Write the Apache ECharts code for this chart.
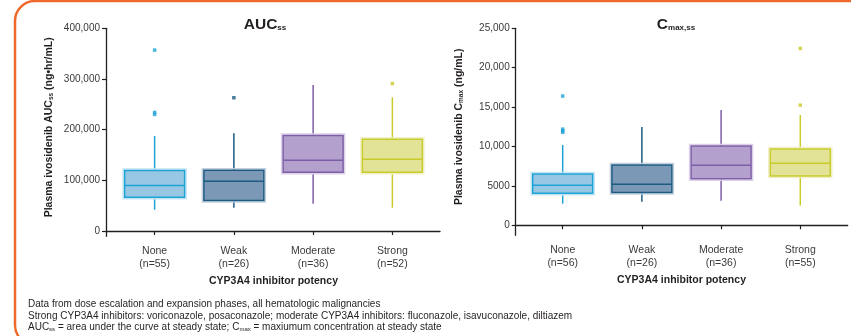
<!DOCTYPE html>
<html>
<head>
<meta charset="utf-8">
<script src="https://cdn.jsdelivr.net/npm/echarts@6/dist/echarts.min.js"></script>
<style>
  html, body { margin: 0; padding: 0; background: #ffffff; }
  #chart { width: 851px; height: 336px; }
</style>
</head>
<body>
<div id="chart"></div>
<script>
// Inhibitor potency groups and group sizes per panel
const categories = ['None', 'Weak', 'Moderate', 'Strong'];
const aucN = [55, 26, 36, 52];
const cmaxN = [56, 26, 36, 55];

// Box summaries: [lower whisker, Q1, median, Q3, upper whisker]
const aucBoxes = [
  [42000, 66500, 90000, 119500, 187500],
  [46000, 60000, 98000, 120000, 193000],
  [54000, 116000, 139500, 188500, 288000],
  [46000, 116000, 141500, 181000, 264000]
];
const aucOutliers = [[357000, 234000, 230000], [263000], [], [291000]];

const cmaxBoxes = [
  [2750, 4060, 5080, 6500, 10200],
  [3000, 4150, 5200, 7650, 12480],
  [3120, 5920, 7620, 10060, 14630],
  [2500, 6260, 7870, 9680, 14000]
];
const cmaxOutliers = [[16400, 12200, 12000, 11800], [], [], [22450, 15250]];

// Y-axis tick values and their printed labels
const aucTicks = [0, 100000, 200000, 300000, 400000];
const aucTickLabels = ['0', '100,000', '200,000', '300,000', '400,000'];
const cmaxTicks = [0, 5000, 10000, 15000, 20000, 25000];
const cmaxTickLabels = ['0', '5000', '10,000', '15,000', '20,000', '25,000'];

// Group styling
const fills = ['#98c7e4', '#7b98b6', '#b4a0cc', '#e2e397'];
const halos = ['#c4e4f4', '#c3d0dd', '#dcd1e8', '#eff0c8'];
const strokes = ['#1ea3d6', '#1d5b82', '#7e5ea8', '#c9cb2a'];

const FONT = '"Liberation Sans", Arial, Helvetica, sans-serif';
const AXIS_COLOR = '#231f20';
const LABEL_COLOR = '#3a3a3a';
const BOX_WIDTH = 60;

function catLabels(n) {
  return categories.map((c, i) => c + '\n(n=' + n[i] + ')');
}

function outlierData(outliers, labels) {
  const out = [];
  outliers.forEach((list, i) => {
    list.forEach(v => out.push({ value: [labels[i], v], itemStyle: { color: strokes[i] } }));
  });
  return out;
}

// Box with plain whiskers (no end caps), drawn through the axis scales
function renderBox(params, api) {
  const i = params.dataIndex;
  const c = api.value(0);
  const lo = api.coord([c, api.value(1)]);
  const q1 = api.coord([c, api.value(2)]);
  const md = api.coord([c, api.value(3)]);
  const q3 = api.coord([c, api.value(4)]);
  const hi = api.coord([c, api.value(5)]);
  const cx = lo[0];
  const half = BOX_WIDTH / 2;
  const line = { stroke: strokes[i], lineWidth: 1.5 };
  return {
    type: 'group',
    children: [
      { type: 'line', shape: { x1: cx, y1: lo[1], x2: cx, y2: q1[1] }, style: line },
      { type: 'line', shape: { x1: cx, y1: q3[1], x2: cx, y2: hi[1] }, style: line },
      { type: 'rect', shape: { x: cx - half - 1.5, y: q3[1] - 1.5, width: BOX_WIDTH + 3, height: q1[1] - q3[1] + 3 },
        style: { fill: 'none', stroke: halos[i], lineWidth: 1.5 } },
      { type: 'rect', shape: { x: cx - half, y: q3[1], width: BOX_WIDTH, height: q1[1] - q3[1] },
        style: { fill: fills[i], stroke: strokes[i], lineWidth: 1.5 } },
      { type: 'line', shape: { x1: cx - half, y1: md[1], x2: cx + half, y2: md[1] }, style: line }
    ]
  };
}

// Panel geometry (frame grid holds the axis lines; box grid holds the categories)
const panels = [
  { frame: { left: 106, top: 28.3, width: 334, height: 208 },
    box:   { left: 115, top: 28.3, width: 317, height: 208 },
    min: -10460, max: 400000, ticks: aucTicks, tickLabels: aucTickLabels,
    nameGap: 51,
    yName: '{n|Plasma ivosidenib AUC}{s|ss}{n| (ng\u2022hr/mL)}',
    labels: catLabels(aucN), boxes: aucBoxes, outliers: aucOutliers },
  { frame: { left: 515.7, top: 28.3, width: 332, height: 207 },
    box:   { left: 523.1, top: 28.3, width: 316.8, height: 207 },
    min: -1269, max: 25000, ticks: cmaxTicks, tickLabels: cmaxTickLabels,
    nameGap: 51,
    yName: '{n|Plasma ivosidenib C}{s|max}{n| (ng/mL)}',
    labels: catLabels(cmaxN), boxes: cmaxBoxes, outliers: cmaxOutliers }
];

const grids = [], xAxes = [], yAxes = [], series = [];
panels.forEach((p) => {
  const gF = grids.length;
  grids.push(Object.assign({ outerBoundsMode: 'none', containLabel: false }, p.frame));
  const gB = grids.length;
  grids.push(Object.assign({ outerBoundsMode: 'none', containLabel: false }, p.box));

  // frame axes
  xAxes.push({
    gridIndex: gF, type: 'value', min: 0, max: 1,
    axisLine: { show: true, lineStyle: { color: AXIS_COLOR, width: 1.3 } },
    axisTick: { show: false }, axisLabel: { show: false }, splitLine: { show: false }
  });
  const labelMap = {};
  p.ticks.forEach((t, i) => { labelMap[t] = p.tickLabels[i]; });
  yAxes.push({
    gridIndex: gF, type: 'value', min: p.min, max: p.max,
    name: p.yName, nameLocation: 'middle', nameRotate: 90, nameGap: p.nameGap,
    nameTextStyle: {
      fontFamily: FONT, fontSize: 10.5, fontWeight: 'bold', color: AXIS_COLOR,
      padding: [0, 0, 0, 10],
      rich: {
        n: { fontFamily: FONT, fontSize: 10.5, fontWeight: 'bold', color: AXIS_COLOR },
        s: { fontFamily: FONT, fontSize: 6.5, fontWeight: 'bold', color: AXIS_COLOR, padding: [4, 0, 0, 0] }
      }
    },
    axisLine: { show: true, lineStyle: { color: AXIS_COLOR, width: 1.3 } },
    axisTick: { show: true, length: 4, customValues: p.ticks, lineStyle: { color: AXIS_COLOR, width: 1.2 } },
    axisLabel: {
      show: true, customValues: p.ticks, margin: 6,
      fontFamily: FONT, fontSize: 10, color: LABEL_COLOR,
      formatter: v => (labelMap[v] !== undefined ? labelMap[v] : '')
    },
    splitLine: { show: false }
  });

  // category axes
  const xIdx = xAxes.length;
  xAxes.push({
    gridIndex: gB, type: 'category', data: p.labels,
    name: 'CYP3A4 inhibitor potency', nameLocation: 'middle', nameGap: 36,
    nameTextStyle: { fontFamily: FONT, fontSize: 10.5, fontWeight: 'bold', color: AXIS_COLOR },
    axisLine: { show: false },
    axisTick: { show: true, alignWithLabel: true, length: 4, lineStyle: { color: AXIS_COLOR, width: 1.2 } },
    axisLabel: { margin: 9, fontFamily: FONT, fontSize: 10.5, lineHeight: 12.5, color: LABEL_COLOR },
    splitLine: { show: false }
  });
  const yIdx = yAxes.length;
  yAxes.push({ gridIndex: gB, type: 'value', min: p.min, max: p.max, show: false, splitLine: { show: false } });

  series.push({
    type: 'custom', xAxisIndex: xIdx, yAxisIndex: yIdx,
    silent: true, clip: false,
    encode: { x: 0, y: [1, 2, 3, 4, 5] },
    renderItem: renderBox,
    data: p.boxes.map((b, i) => [i].concat(b))
  });
  series.push({
    type: 'scatter', xAxisIndex: xIdx, yAxisIndex: yIdx,
    symbol: 'rect', symbolSize: 3.5, silent: true,
    data: outlierData(p.outliers, p.labels)
  });
});

const chart = echarts.init(document.getElementById('chart'), null, { renderer: 'canvas' });
chart.setOption({
  backgroundColor: '#ffffff',
  animation: false,
  grid: grids,
  xAxis: xAxes,
  yAxis: yAxes,
  series: series,
  graphic: [
    // rounded orange frame
    { type: 'rect', silent: true, z: 0,
      shape: { x: 15, y: 1, width: 900, height: 344, r: 20 },
      style: { fill: 'none', stroke: '#f0692c', lineWidth: 2.5 } },
    // panel titles
    { type: 'text', silent: true, x: 265, y: 25,
      style: { text: '{t|AUC}{s|ss}', align: 'center', textAlign: 'center', verticalAlign: 'middle', textVerticalAlign: 'middle',
        rich: {
          t: { fontFamily: FONT, fontSize: 15.5, fontWeight: 'bold', fill: '#231f20', color: '#231f20' },
          s: { fontFamily: FONT, fontSize: 8, fontWeight: 'bold', fill: '#231f20', color: '#231f20', padding: [6, 0, 0, 0] }
        } } },
    { type: 'text', silent: true, x: 676, y: 25,
      style: { text: '{t|C}{s|max,ss}', align: 'center', textAlign: 'center', verticalAlign: 'middle', textVerticalAlign: 'middle',
        rich: {
          t: { fontFamily: FONT, fontSize: 15.5, fontWeight: 'bold', fill: '#231f20', color: '#231f20' },
          s: { fontFamily: FONT, fontSize: 8, fontWeight: 'bold', fill: '#231f20', color: '#231f20', padding: [6, 0, 0, 0] }
        } } },
    // footnotes
    { type: 'text', silent: true, x: 28, y: 304,
      style: { text: 'Data from dose escalation and expansion phases, all hematologic malignancies',
        font: '10px ' + FONT, fill: '#231f20', verticalAlign: 'middle', textVerticalAlign: 'middle' } },
    { type: 'text', silent: true, x: 28, y: 316,
      style: { text: 'Strong CYP3A4 inhibitors: voriconazole, posaconazole; moderate CYP3A4 inhibitors: fluconazole, isavuconazole, diltiazem',
        font: '10px ' + FONT, fill: '#231f20', verticalAlign: 'middle', textVerticalAlign: 'middle' } },
    { type: 'text', silent: true, x: 28, y: 327,
      style: { text: '{n|AUC}{s|ss}{n| = area under the curve at steady state; C}{s|max}{n| = maxiumum concentration at steady state}',
        verticalAlign: 'middle', textVerticalAlign: 'middle',
        rich: {
          n: { fontFamily: FONT, fontSize: 10, fill: '#231f20', color: '#231f20' },
          s: { fontFamily: FONT, fontSize: 6, fill: '#231f20', color: '#231f20', padding: [4, 0, 0, 0] }
        } } }
  ]
});
</script>
</body>
</html>
